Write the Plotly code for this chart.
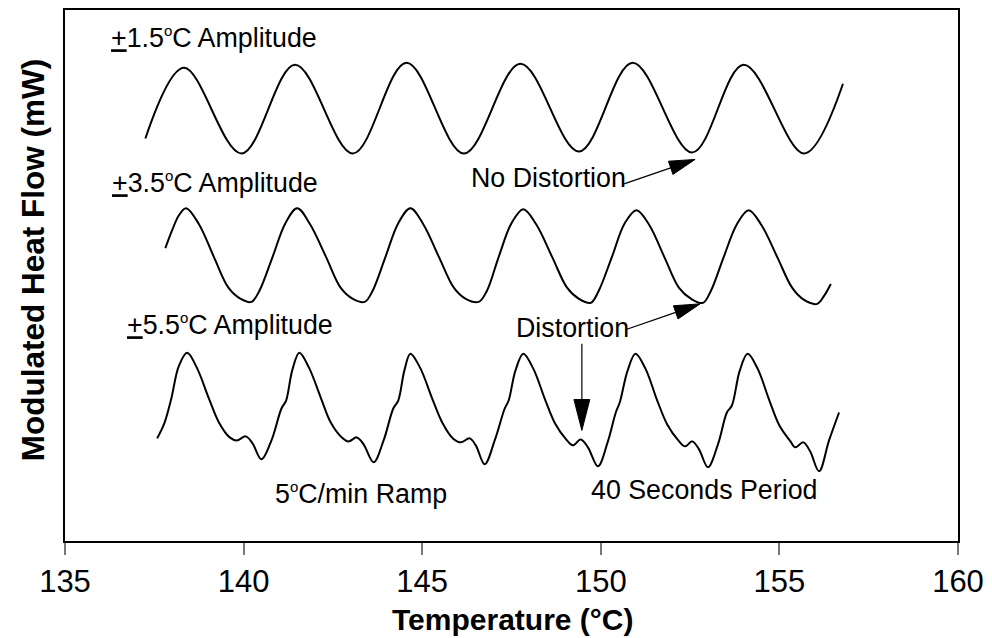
import math
import plotly.graph_objects as go

# ---------------- data ----------------
# Temperature (°C) and modulated heat flow (arbitrary mW units) for each amplitude
temp_15 = [137.25, 138.33, 139.94, 141.44, 143.06, 144.56, 146.17, 147.75, 149.39,
           150.89, 152.56, 154.00, 155.69, 156.78]
hf_15 = [404, 475, 389, 478, 389, 480, 389, 479, 391, 480, 390, 478, 389, 459]

temp_35 = [137.81, 138.00, 138.19, 138.39, 138.75, 139.17, 139.58, 139.92, 140.22, 140.44,
           140.81, 141.17, 141.50, 141.86, 142.31, 142.72, 143.06, 143.39, 143.61, 143.97,
           144.33, 144.67, 145.03, 145.47, 145.89, 146.22, 146.58, 146.81, 147.14, 147.50,
           147.83, 148.19, 148.64, 149.06, 149.39, 149.72, 149.94, 150.31, 150.67, 151.00,
           151.36, 151.78, 152.19, 152.53, 152.86, 153.08, 153.44, 153.81, 154.14, 154.50,
           154.94, 155.36, 155.69, 156.06, 156.25, 156.44]
hf_35 = [294, 312, 327, 334, 318, 285, 254, 243, 240, 251,
         285, 319, 334, 318, 285, 254, 243, 240, 251, 285,
         319, 334, 318, 285, 254, 243, 240, 251, 285, 319,
         333, 318, 285, 254, 243, 239, 251, 285, 319, 332,
         317, 285, 254, 243, 239, 251, 285, 318, 332, 317,
         285, 254, 242, 238, 246, 258]

temp_55 = [137.58, 137.78, 137.97, 138.19, 138.42,
           138.69, 139.03, 139.31, 139.61, 139.81, 140.06, 140.25, 140.50, 140.78, 141.06, 141.19, 141.36, 141.56,
           141.83, 142.17, 142.44, 142.75, 142.94, 143.17, 143.36, 143.64, 143.92, 144.19, 144.33, 144.50, 144.67,
           144.94, 145.28, 145.56, 145.86, 146.08, 146.33, 146.50, 146.75, 147.03, 147.31, 147.42, 147.61, 147.83,
           148.11, 148.44, 148.72, 149.03, 149.22, 149.44, 149.64, 149.92, 150.19, 150.42, 150.53, 150.75, 150.97,
           151.25, 151.58, 151.86, 152.17, 152.36, 152.56, 152.75, 153.00, 153.28, 153.53, 153.67, 153.89, 154.11,
           154.39, 154.72, 155.00, 155.31, 155.44, 155.67, 155.86, 156.11, 156.39, 156.67]
hf_55 = [103, 118, 142, 176, 189,
         174, 143, 119, 104, 101, 105, 98, 82, 101, 133, 141, 171, 189,
         174, 143, 119, 104, 100, 104, 97, 79, 101, 133, 141, 171, 188,
         174, 143, 119, 103, 99, 103, 96, 77, 101, 133, 141, 171, 188,
         173, 142, 118, 102, 96, 102, 94, 75, 99, 129, 139, 171, 188,
         173, 141, 117, 101, 95, 100, 92, 74, 97, 129, 136, 171, 188,
         173, 141, 116, 100, 94, 99, 90, 70, 101, 129]

x_ticks = [135, 140, 145, 150, 155, 160]
x_range = [135, 160]
y_range = [0, 533]

# text labels: (text, temperature, heat flow)
SUP_O = "<sup><span style='font-size:15px'>o</span></sup>"
labels = [
    ("<u>+</u>1.5" + SUP_O + "C Amplitude", 136.22, 505),
    ("<u>+</u>3.5" + SUP_O + "C Amplitude", 136.25, 360),
    ("<u>+</u>5.5" + SUP_O + "C Amplitude", 136.67, 217),
    ("No Distortion", 146.31, 364),
    ("Distortion", 147.56, 214),
    ("5" + SUP_O + "C/min Ramp", 140.83, 48),
    ("40 Seconds Period", 149.67, 51),
]
# arrows: (tail T, tail HF, tip T, tip HF, head length px, head width px)
arrows = [
    (150.61, 358, 152.64, 383, 26, 14),
    (150.69, 212, 152.78, 238, 26, 14),
    (149.47, 198, 149.47, 111, 31, 16),
]

# ---------------- figure ----------------
FONT = "Arial, Liberation Sans, sans-serif"
W, H = 992, 638
ML, MR, MT, MB = 65, 27, 8, 97
PX_PER_T = (W - ML - MR) / (x_range[1] - x_range[0])
PX_PER_Y = (H - MT - MB) / (y_range[1] - y_range[0])

fig = go.Figure()
for xs, ys in [(temp_15, hf_15), (temp_35, hf_35), (temp_55, hf_55)]:
    fig.add_trace(go.Scatter(x=xs, y=ys, mode="lines",
                             line=dict(color="black", width=2, shape="spline", smoothing=1),
                             showlegend=False, hoverinfo="skip"))

for text, t, y in labels:
    fig.add_annotation(x=t, y=y, xref="x", yref="y", text=text, showarrow=False,
                       xanchor="left", yanchor="middle",
                       font=dict(family=FONT, size=26.8, color="black"))

for t0, y0, t1, y1, hl, hw in arrows:
    dx = (t1 - t0) * PX_PER_T
    dy = (y1 - y0) * PX_PER_Y
    L = math.hypot(dx, dy)
    ux, uy = dx / L, dy / L
    bx, by = -ux * hl, -uy * hl
    pxx, pyy = -uy * hw / 2, ux * hw / 2
    fig.add_shape(type="line", xref="x", yref="y", x0=t0, y0=y0,
                  x1=t1 + bx / PX_PER_T, y1=y1 + by / PX_PER_Y,
                  line=dict(color="black", width=1.2))
    path = (f"M {t1} {y1} "
            f"L {t1 + (bx + pxx) / PX_PER_T} {y1 + (by + pyy) / PX_PER_Y} "
            f"L {t1 + (bx - pxx) / PX_PER_T} {y1 + (by - pyy) / PX_PER_Y} Z")
    fig.add_shape(type="path", xref="x", yref="y", path=path,
                  fillcolor="black", line=dict(color="black", width=1))

# axis titles
fig.add_annotation(x=0.501, y=-0.147, xref="paper", yref="paper",
                   text="<b>Temperature (°C)</b>", showarrow=False,
                   xanchor="center", yanchor="middle",
                   font=dict(family=FONT, size=30, color="black"))
fig.add_annotation(x=-0.0356, y=0.529, xref="paper", yref="paper",
                   text="<b>Modulated Heat Flow (mW)</b>", showarrow=False,
                   textangle=-90, xanchor="center", yanchor="middle",
                   font=dict(family=FONT, size=31.5, color="black"))

fig.update_layout(
    width=W, height=H,
    margin=dict(l=ML, r=MR, t=MT, b=MB, pad=0),
    paper_bgcolor="white", plot_bgcolor="white",
    showlegend=False,
    xaxis=dict(range=x_range, tickvals=x_ticks, ticks="outside", ticklen=12,
               tickwidth=2, tickcolor="#777", showline=True, linecolor="black",
               linewidth=1.5, mirror=True, showgrid=False, zeroline=False,
               tickfont=dict(family=FONT, size=31, color="black")),
    yaxis=dict(range=y_range, showticklabels=False, ticks="", showline=True,
               linecolor="black", linewidth=1.5, mirror=True, showgrid=False,
               zeroline=False),
)

fig.write_html("out.html")
